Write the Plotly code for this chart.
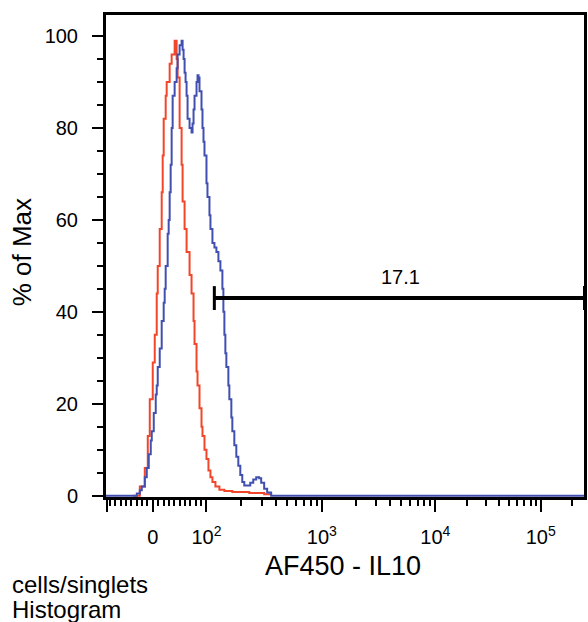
import numpy as np
import plotly.graph_objects as go

# ---- Data (histogram channels on the biexponential display scale, % of max) ----
red_channel = [-20, -18, -13, -8, -5, -3, 0, 2, 4, 5, 7, 9, 10, 11, 13, 14, 17, 19, 22, 24, 25, 27, 29, 30,
               32, 34, 37, 39, 41, 42, 44, 45, 47, 49, 50, 52, 54, 56, 58, 60, 63, 67, 72, 80, 97, 112, 119]
red_pct = [0, 0, 2, 6, 13, 21, 29, 35, 44, 50, 58, 66, 74, 82, 87, 90, 94, 96, 99, 95, 91, 80, 72, 64,
           58, 53, 48, 44, 38, 33, 27, 24, 19, 15, 13, 10, 8, 5.5, 4, 3, 2, 1.3, 1, 0.8, 0.6, 0.3, 0]

blue_channel = [-48, -20, -16, -13, -11, -8, -6, -4, -2, -1, 1, 3, 4, 5, 7, 9, 11, 12, 13, 15, 16, 17, 18, 19,
                20, 22, 24, 25, 27, 29, 30, 31, 32, 33, 34, 35, 37, 39, 40, 41, 42, 44, 45, 46, 47, 49, 50,
                51, 52, 54, 55, 57, 58, 60, 62, 64, 66, 68, 70, 71, 72, 73, 74, 76, 77, 79, 80, 82, 84, 86,
                88, 90, 92, 95, 98, 101, 104, 107, 109, 112, 115, 119, 434]
blue_pct = [0, 0, 0.5, 1.2, 2, 4, 6, 9, 12, 14, 18, 22, 24, 28, 32, 38, 42, 45, 50, 57, 60, 66, 72, 80,
            87, 90, 93, 96, 98, 99, 97, 95, 92, 90, 87, 82, 80, 79, 81, 84, 87, 90, 91.5, 91, 88, 84, 80,
            77, 74, 68, 65, 61, 58, 55, 54, 53, 51, 49, 45, 40, 35, 31, 28, 24, 21, 17, 14, 11, 8.5, 6.5,
            4.5, 3, 2.2, 2.2, 2.8, 3.5, 4, 3.8, 2.8, 1.5, 0.7, 0, 0]

# ---- Axis scale anchors (biexponential display) ----
decade_log = [2, 3, 4, 5, 6]
decade_channel = [54, 170, 284, 390, 496]
linear_slope = 0.54  # channels per unit below 100

major_values = [-85, 0, 100, 1e3, 1e4, 1e5]
major_labels = ["", "0", "10<sup>2</sup>", "10<sup>3</sup>", "10<sup>4</sup>", "10<sup>5</sup>"]
minor_values = ([-v for v in range(10, 90, 10)] + list(range(10, 100, 10)) +
                [m * 10 ** e for e in (2, 3, 4) for m in range(2, 10)] + [2e5])

gate_value = 117
gate_pct = 43.0
gate_label = "17.1"
label_channel = 249
label_pct = 47.6


def to_channel(v):
    v = np.asarray(v, dtype=float)
    out = np.where(np.abs(v) <= 100, v * linear_slope,
                   np.sign(v) * np.interp(np.log10(np.maximum(np.abs(v), 1e-9)), decade_log, decade_channel))
    return out


X_RANGE = [-48, 434.5]
Y_RANGE = [-0.5, 104.8]
FONT = "Liberation Sans, Arial, sans-serif"

W, H = 588, 622
ML, MR, MT, MB = 105, 1, 14, 124
PW, PH = W - ML - MR, H - MT - MB


def px_x(px):
    return (px - ML) / PW


def px_y(py):
    return (H - MB - py) / PH


fig = go.Figure()
fig.add_trace(go.Scatter(x=red_channel, y=red_pct, mode="lines", line=dict(color="#f2462a", width=2, shape="hv"),
                         showlegend=False, hoverinfo="skip"))
fig.add_trace(go.Scatter(x=blue_channel, y=blue_pct, mode="lines", line=dict(color="#4150b0", width=2, shape="hv"),
                         showlegend=False, hoverinfo="skip"))

g0 = float(to_channel(gate_value))
g1 = X_RANGE[1] - 0.5
fig.add_shape(type="line", xref="x", yref="y", x0=g0, x1=g1, y0=gate_pct, y1=gate_pct,
              line=dict(color="black", width=4))
for gx in (g0, g1):
    fig.add_shape(type="line", xref="x", yref="y", x0=gx, x1=gx, y0=gate_pct - 2.6, y1=gate_pct + 2.6,
                  line=dict(color="black", width=3))

# plot frame
fig.add_shape(type="rect", xref="paper", yref="paper", x0=0, x1=1, y0=0, y1=1,
              line=dict(color="black", width=2), fillcolor="rgba(0,0,0,0)", layer="above")

fig.add_annotation(x=label_channel, y=label_pct, text=gate_label, showarrow=False,
                   font=dict(family=FONT, size=20, color="black"))

fig.update_layout(
    width=W, height=H,
    margin=dict(l=ML, r=MR, t=MT, b=MB),
    paper_bgcolor="white", plot_bgcolor="white",
    font=dict(family=FONT, color="black"),
    xaxis=dict(range=X_RANGE, showgrid=False, zeroline=False, showline=True, linecolor="black", linewidth=2,
               mirror=True, ticks="outside", ticklen=12, tickwidth=2, tickcolor="black",
               tickmode="array", tickvals=list(to_channel(major_values)), ticktext=major_labels,
               tickfont=dict(family=FONT, size=20, color="black"), ticklabelstandoff=8,
               minor=dict(tickmode="array", tickvals=list(to_channel(minor_values)), ticks="outside",
                          ticklen=6, tickwidth=1.5, tickcolor="black")),
    yaxis=dict(range=Y_RANGE, showgrid=False, zeroline=False, showline=True, linecolor="black", linewidth=2,
               mirror=True, ticks="outside", ticklen=11, tickwidth=2, tickcolor="black",
               tickvals=[0, 20, 40, 60, 80, 100], tickfont=dict(family=FONT, size=20, color="black"),
               ticklabelstandoff=10,
               minor=dict(dtick=5, ticks="outside", ticklen=6, tickwidth=1.5, tickcolor="black")),
)

fig.add_annotation(xref="paper", yref="paper", x=px_x(22), y=px_y(252), text="% of Max",
                   textangle=-90, showarrow=False, xanchor="center", yanchor="middle",
                   font=dict(family=FONT, size=26, color="black"))
fig.add_annotation(xref="paper", yref="paper", x=px_x(344), y=px_y(566), text="AF450 - IL10",
                   showarrow=False, xanchor="center", yanchor="middle",
                   font=dict(family=FONT, size=27, color="black"))
fig.add_annotation(xref="paper", yref="paper", x=px_x(10), y=px_y(584),
                   text="cells/singlets", showarrow=False, xanchor="left", yanchor="middle",
                   align="left", font=dict(family=FONT, size=24, color="black"))
fig.add_annotation(xref="paper", yref="paper", x=px_x(10), y=px_y(609),
                   text="Histogram", showarrow=False, xanchor="left", yanchor="middle",
                   align="left", font=dict(family=FONT, size=24, color="black"))

fig.write_html("out.html", config={"displayModeBar": False},
               post_script="document.body.style.margin='0';document.body.style.overflow='hidden';")
